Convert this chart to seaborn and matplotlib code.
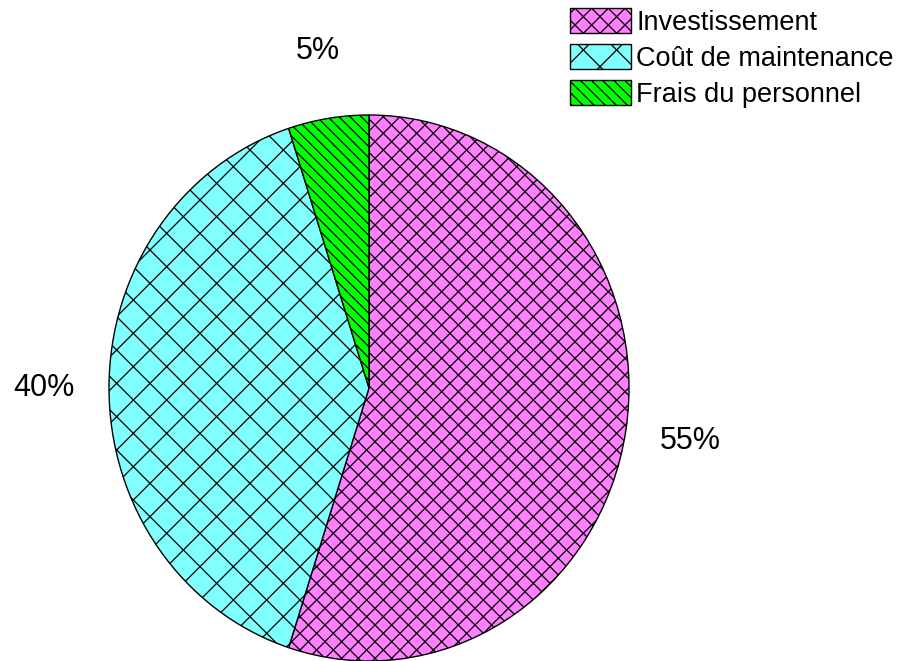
import matplotlib
matplotlib.use("Agg")
import matplotlib.pyplot as plt
import seaborn as sns

# Cost breakdown
categories = ["Investissement", "Coût de maintenance", "Frais du personnel"]
shares = [55, 40, 5]
colors = ["#FF80FF", "#80FFFF", "#00FF00"]
hatches = ["xx", "x", "\\\\\\"]

sns.set_theme(style="white")
plt.rcParams["font.family"] = ["Liberation Sans", "DejaVu Sans"]
plt.rcParams["hatch.linewidth"] = 0.9
plt.rcParams["hatch.color"] = "black"
plt.rcParams["text.color"] = "black"

fig = plt.figure(figsize=(9.01, 6.61), dpi=100)
ax = fig.add_axes([109 / 901, 0.0, 520 / 901, 546 / 661])

wedges, _, autotexts = ax.pie(
    shares,
    colors=colors,
    startangle=90,
    counterclock=False,
    autopct="%.0f%%",
    pctdistance=1.25,
    wedgeprops=dict(edgecolor="black", linewidth=1.0),
    textprops=dict(fontsize=22, color="black"),
)
for w, h in zip(wedges, hatches):
    w.set_hatch(h)
    w.set_clip_on(False)

# slightly taller than wide
ax.set_aspect("auto")
ax.set_xlim(-1, 1)
ax.set_ylim(-1, 1)
ax.axis("off")

leg = fig.legend(
    wedges,
    categories,
    loc="upper left",
    bbox_to_anchor=(570 / 901, 1 - 8 / 661),
    frameon=False,
    fontsize=19.5,
    handlelength=2.25,
    handleheight=1.05,
    handletextpad=0.2,
    labelspacing=0.3,
    borderpad=0,
    borderaxespad=0,
)
for t in leg.get_texts():
    t.set_color("black")

fig.savefig("out.png", dpi=100)
